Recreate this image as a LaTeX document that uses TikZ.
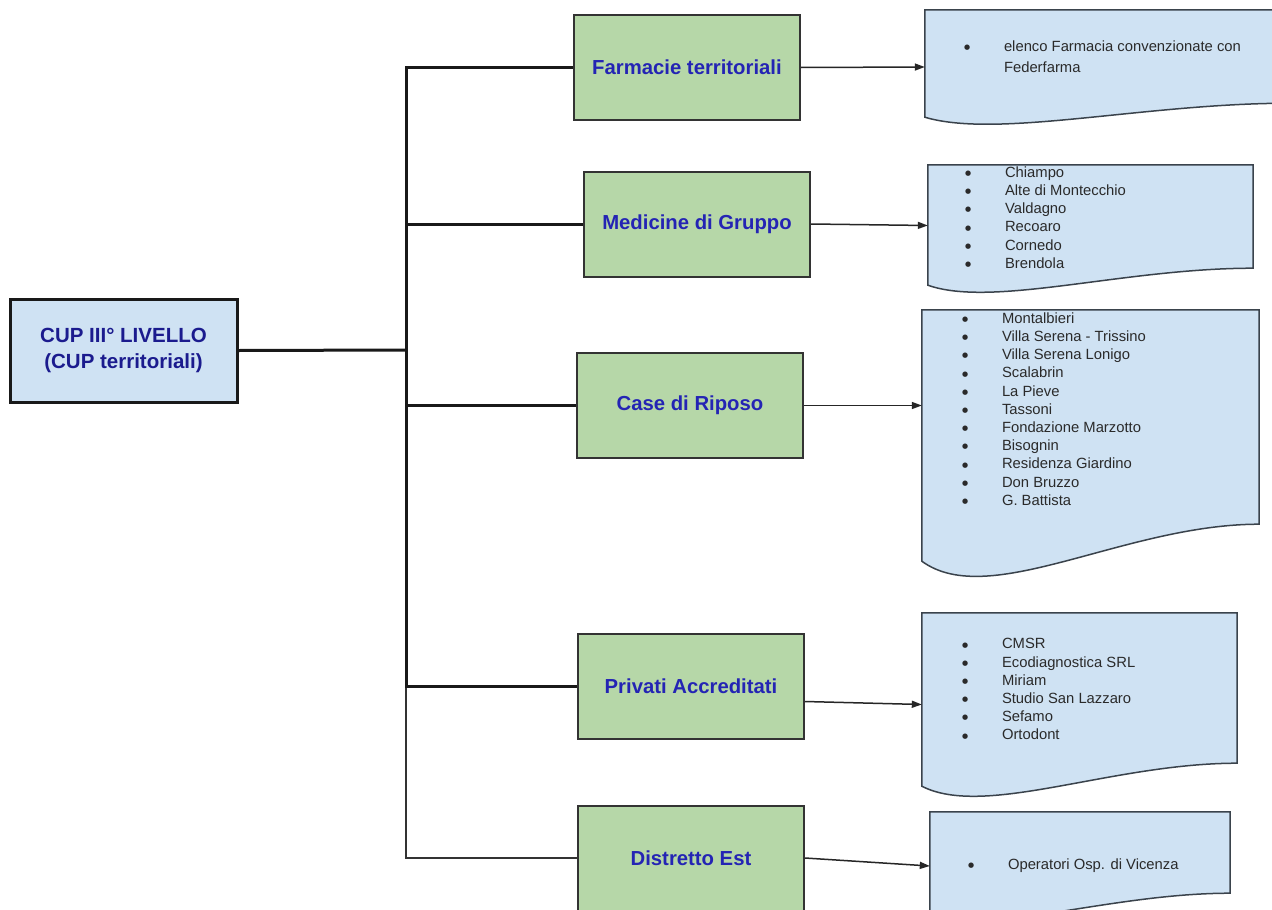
\documentclass[tikz,border=0pt]{standalone}
\usepackage{fontspec}
\setmainfont{Liberation Sans}
\newfontfamily\symfont{DejaVu Sans}
\usetikzlibrary{arrows.meta,calc}

\definecolor{cupblue}{HTML}{CFE2F3}
\definecolor{boxgreen}{HTML}{B6D7A8}
\definecolor{labelblue}{HTML}{2424B4}
\definecolor{navy}{HTML}{1B1B8E}
\definecolor{listgray}{HTML}{2A2A2A}
\definecolor{edgegray}{HTML}{3A434C}

% bullet with the gap up to the text
\newcommand{\bul}{\makebox[40pt][l]{\raisebox{1.8pt}{\symfont\fontsize{7}{8}\selectfont ●}}}
\newcommand{\nobul}{\makebox[40pt][l]{}}

% outline of a document shape round an empty node: node, left rise, right rise
\newcommand{\docoutline}[3]{%
  \filldraw[docline] (#1.north west) -- (#1.north east) -- ($(#1.south east)+(0,-#3)$)
    .. controls ($(#1.south east)!0.4!(#1.south west)+(0,-#3)$) and ($(#1.south west)!0.2!(#1.south east)+(0,{0.37*#3+#2})$)
    .. ($(#1.south west)+(0,-#2)$) -- cycle;}

\tikzset{
  cupbox/.style={draw=black!90, line width=3pt, fill=cupblue, minimum width=227pt, minimum height=103pt,
    align=center, font=\fontsize{20.5}{26}\selectfont\bfseries, text=navy},
  groupbox/.style={draw=black!80, line width=2pt, fill=boxgreen, minimum width=226pt, minimum height=105pt,
    font=\fontsize{20.3}{24}\selectfont\bfseries, text=labelblue},
  docbox/.style={inner sep=0pt},
  docline/.style={draw=edgegray, line width=1.5pt, fill=cupblue},
  listtext/.style={inner sep=0pt, align=left, text=listgray, font=\fontsize{14.8}{18.2}\selectfont},
  trunkline/.style={line width=3pt, black!90},
  thinline/.style={line width=1.5pt, black!80},
  arrowline/.style={line width=1.5pt, black!85, -{Triangle[length=10pt,width=7pt]}}
}

\begin{document}
\begin{tikzpicture}[x=1pt, y=-1pt]
  \fill[white] (0,0) rectangle (1272,910);
  \useasboundingbox (0,0) rectangle (1272,910);

  % left box and the five groups
  \node[cupbox] (cup) at (123.5,350.5) {CUP III° LIVELLO\\(CUP territoriali)};
  \node[groupbox] (farm) at (687,67.5) {Farmacie territoriali};
  \node[groupbox] (med) at (697,224) {Medicine di Gruppo};
  \node[groupbox] (case) at (690,405.5) {Case di Riposo};
  \node[groupbox] (priv) at (691,686.5) {Privati Accreditati};
  \node[groupbox] (dist) at (691,858) {Distretto Est};

  % tree lines
  \coordinate (trunk) at (406,350);
  \draw[trunkline] (cup.east) -- (trunk);
  \draw[thinline] (dist.west) -| (trunk);
  \draw[trunkline] (farm.west) -| (trunk);
  \draw[trunkline] (med.west) -| (trunk);
  \draw[trunkline] (case.west) -| (trunk);
  \draw[trunkline] (priv.west) -| (trunk);

  % documents
  \node[docbox, minimum width=365pt, minimum height=114pt] (dfarm) at (1107.5,67) {};
  \node[docbox, minimum width=325pt, minimum height=127pt] (dmed) at (1090.5,228.5) {};
  \node[docbox, minimum width=337pt, minimum height=266pt] (dcase) at (1090.5,443) {};
  \node[docbox, minimum width=315pt, minimum height=183pt] (dpriv) at (1079.5,704.5) {};
  \node[docbox, minimum width=300pt, minimum height=108pt] (ddist) at (1080,866) {};
  \docoutline{dfarm}{7}{21}
  \docoutline{dmed}{7}{24}
  \docoutline{dcase}{15}{52}
  \docoutline{dpriv}{10}{33}
  \docoutline{ddist}{6}{27}

  \node[listtext, anchor=north west, font=\fontsize{14.8}{21}\selectfont] (lfarm) at ($(dfarm.north west)+(39,31)$)
    {\bul elenco Farmacia convenzionate con\\\nobul Federfarma};
  \node[listtext, anchor=north west] (lmed) at ($(dmed.north west)+(37,1.5)$)
    {\bul Chiampo\\\bul Alte di Montecchio\\\bul Valdagno\\\bul Recoaro\\\bul Cornedo\\\bul Brendola};
  \node[listtext, anchor=north west] (lcase) at ($(dcase.north west)+(40,2.5)$)
    {\bul Montalbieri\\\bul Villa Serena - Trissino\\\bul Villa Serena Lonigo\\\bul Scalabrin\\\bul La Pieve\\\bul Tassoni\\
     \bul Fondazione Marzotto\\\bul Bisognin\\\bul Residenza Giardino\\\bul Don Bruzzo\\\bul G. Battista};
  \node[listtext, anchor=north west] (lpriv) at ($(dpriv.north west)+(40,25.5)$)
    {\bul CMSR\\\bul Ecodiagnostica SRL\\\bul Miriam\\\bul Studio San Lazzaro\\\bul Sefamo\\\bul Ortodont};
  \node[listtext, anchor=north west] (ldist) at ($(ddist.north west)+(38,46.5)$)
    {\bul Operatori Osp. di Vicenza};

  % arrows to the lists
  \draw[arrowline] (farm.east) -- (dfarm.west);
  \draw[arrowline] (med.east) -- ($(dmed.west)+(0,-3)$);
  \draw[arrowline] (case.east) -- (case.east -| dcase.west);
  \draw[arrowline] ($(priv.east)+(0,15)$) -- (dpriv.west);
  \draw[arrowline] (dist.east) -- (ddist.west);
\end{tikzpicture}
\end{document}
